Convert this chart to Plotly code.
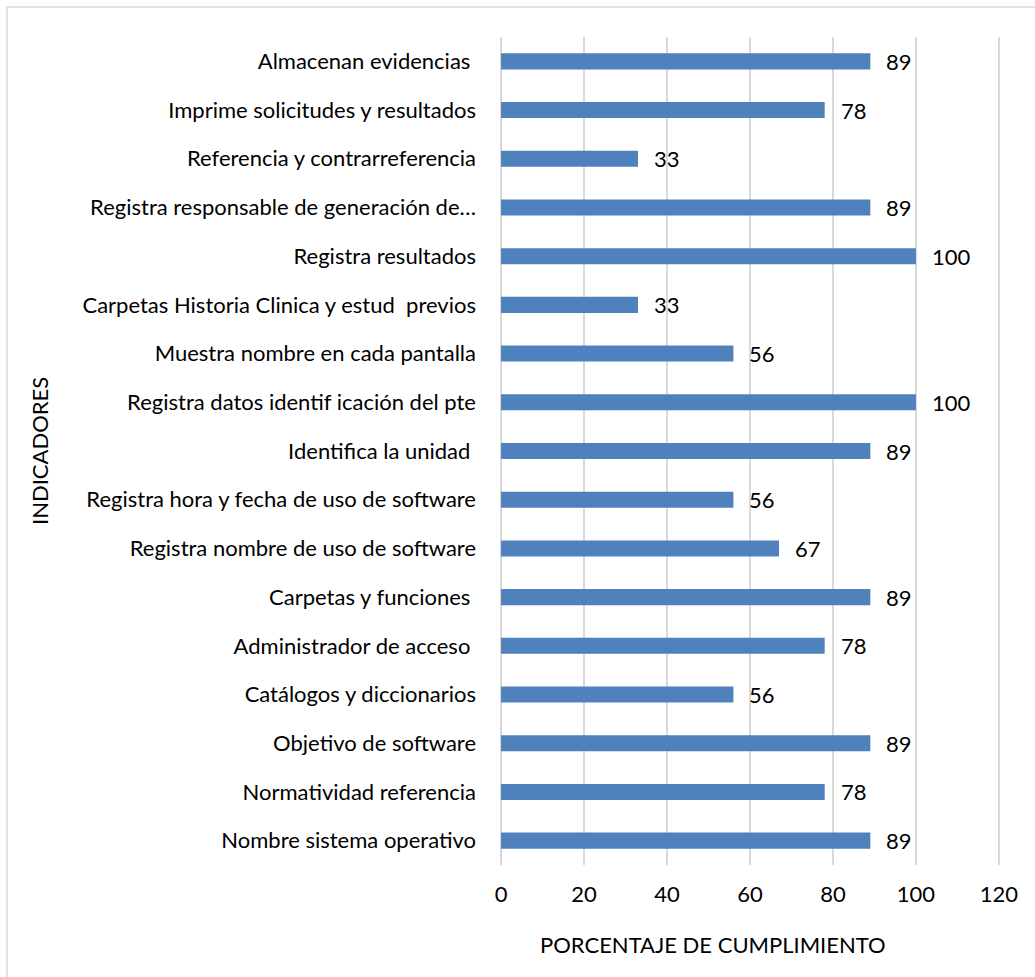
import plotly.graph_objects as go

# Indicators listed from top to bottom, with their compliance percentage
indicadores = [
    "Almacenan evidencias\u00a0",
    "Imprime solicitudes y resultados",
    "Referencia y contrarreferencia",
    "Registra responsable de generación de…",
    "Registra resultados",
    "Carpetas Historia Clinica y estud  previos",
    "Muestra nombre en cada pantalla",
    "Registra datos identif icación del pte",
    "Identifica la unidad\u00a0",
    "Registra hora y fecha de uso de software",
    "Registra nombre de uso de software",
    "Carpetas y funciones\u00a0",
    "Administrador de acceso\u00a0",
    "Catálogos y diccionarios",
    "Objetivo de software",
    "Normatividad referencia",
    "Nombre sistema operativo",
]
porcentaje = [89, 78, 33, 89, 100, 33, 56, 100, 89, 56, 67, 89, 78, 56, 89, 78, 89]
x_ticks = [0, 20, 40, 60, 80, 100, 120]

FONT = "Lato"
FS = 22
W, H = 1035, 977
# small padding around 0..120 so the edge gridlines stay inside the plot area
L, R, T, B = 499, 34, 37, 112
pw, ph = W - L - R, H - T - B

def px_x(p):
    return (p - L) / pw

def px_y(p):
    return (H - B - p) / ph

fig = go.Figure(
    go.Bar(
        x=porcentaje,
        y=indicadores,
        orientation="h",
        marker=dict(color="#4F81BD", line=dict(width=0)),
        width=0.33,
        hoverinfo="x+y",
    )
)

# value labels just past the end of each bar
for cat, val in zip(indicadores, porcentaje):
    fig.add_annotation(
        x=val, y=cat, text=str(val), showarrow=False,
        xanchor="left", yanchor="middle", xshift=14,
        font=dict(family=FONT, size=FS, color="#000000"),
    )

# axis titles
fig.add_annotation(
    x=px_x(713), y=px_y(944), xref="paper", yref="paper",
    xanchor="center", yanchor="middle",
    text="PORCENTAJE DE CUMPLIMIENTO", showarrow=False,
    font=dict(family=FONT, size=FS, color="#000000"),
)
fig.add_annotation(
    x=px_x(39), y=0.5, xref="paper", yref="paper",
    xanchor="center", yanchor="middle",
    text="INDICADORES", showarrow=False, textangle=-90,
    font=dict(family=FONT, size=FS, color="#000000"),
)

# chart area outline
fig.add_shape(
    type="rect", xref="paper", yref="paper",
    x0=px_x(7), y0=px_y(1010), x1=px_x(1060), y1=px_y(7),
    line=dict(color="#D9D9D9", width=1.5), fillcolor="rgba(0,0,0,0)", layer="below",
)

fig.update_layout(
    width=W, height=H,
    margin=dict(l=L, r=R, t=T, b=B, pad=0),
    paper_bgcolor="white", plot_bgcolor="white",
    showlegend=False,
    font=dict(family=FONT, size=FS, color="#000000"),
    xaxis=dict(
        range=[-0.5, 120.5], tickvals=x_ticks, ticktext=[str(v) for v in x_ticks],
        showgrid=True, gridcolor="#D9D9D9", gridwidth=1.5,
        zeroline=False, showline=False, ticks="", ticklabelstandoff=14,
        tickfont=dict(family=FONT, size=FS, color="#000000"),
    ),
    yaxis=dict(
        autorange="reversed", showgrid=False, zeroline=False, showline=False,
        ticks="", ticklabelstandoff=22,
        tickfont=dict(family=FONT, size=FS, color="#000000"),
    ),
)

fig.write_html("out.html")
